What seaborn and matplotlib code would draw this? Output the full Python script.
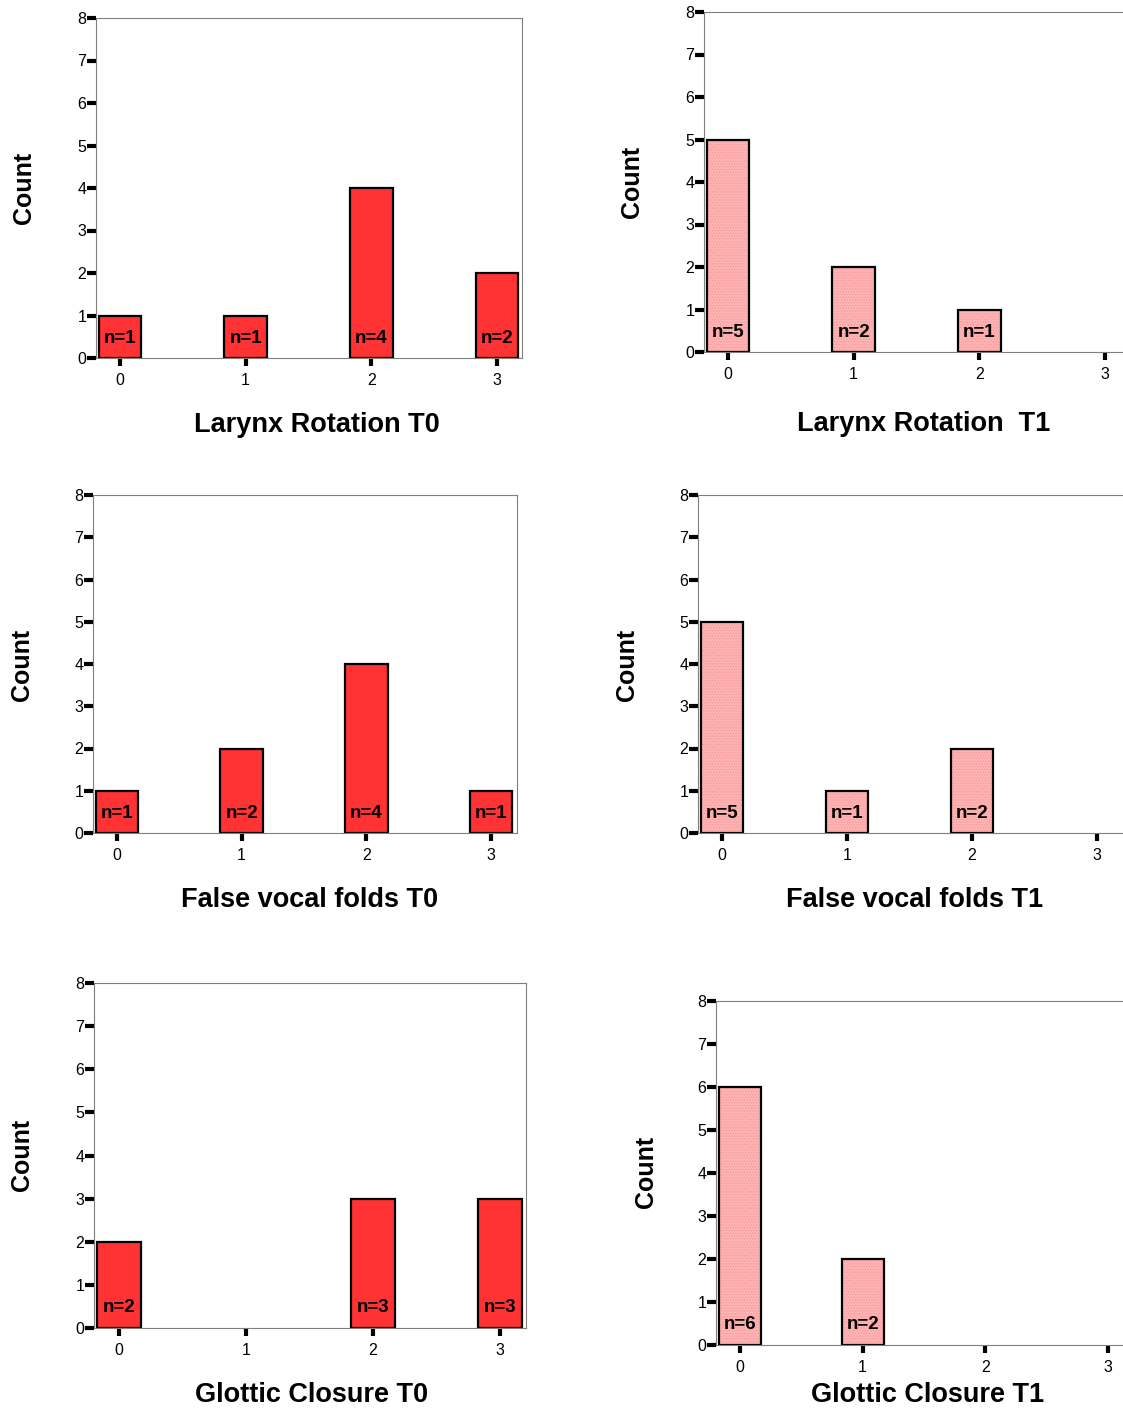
import matplotlib
matplotlib.use("Agg")
import matplotlib.pyplot as plt
import seaborn as sns
import pandas as pd

# Category codes on the x axis
categories = ["0", "1", "2", "3"]

# Counts per category for each assessment
larynx_t0 = [1, 1, 4, 2]
larynx_t1 = [5, 2, 1, 0]
vocal_folds_t0 = [1, 2, 4, 1]
vocal_folds_t1 = [5, 1, 2, 0]
glottic_t0 = [2, 0, 3, 3]
glottic_t1 = [6, 2, 0, 0]

titles = [
    "Larynx Rotation T0", "Larynx Rotation  T1",
    "False vocal folds T0", "False vocal folds T1",
    "Glottic Closure T0", "Glottic Closure T1",
]
yticks = [0, 1, 2, 3, 4, 5, 6, 7, 8]

sns.set_theme(style="white")
plt.rcParams["font.family"] = ["Liberation Sans", "DejaVu Sans"]
plt.rcParams["text.color"] = "black"
plt.rcParams["xtick.color"] = "black"
plt.rcParams["ytick.color"] = "black"
plt.rcParams["xtick.labelcolor"] = "black"
plt.rcParams["ytick.labelcolor"] = "black"
plt.rcParams["hatch.linewidth"] = 0.6

W, H = 1123, 1410
fig = plt.figure(figsize=(W / 100, H / 100), dpi=100)

RED = "#FF3333"
PINK = "#FFB3B3"
PINK_DOT = "#F59898"

# panel layout in pixels: left, right, top, bottom, x position of category 0, of category 3
panels = [
    (larynx_t0, 96, 522, 18, 358, 120, 497, False, (24, 188), (317, 425), True),
    (larynx_t1, 704, 1123, 12, 352, 728, 1105, True, (632, 182), (924, 424), False),
    (vocal_folds_t0, 93, 517, 495, 833, 117, 491, False, (22, 665), (310, 900), True),
    (vocal_folds_t1, 698, 1123, 495, 833, 722, 1097, True, (627, 665), (915, 900), False),
    (glottic_t0, 94, 526, 983, 1328, 119, 500, False, (22, 1155), (312, 1395), True),
    (glottic_t1, 716, 1123, 1001, 1345, 740, 1108, True, (646, 1172), (928, 1395), False),
]

for (counts, l, r, t, b, x0, x3, pink, ylab, xlab, right_spine), title in zip(panels, titles):
    ax = fig.add_axes([l / W, 1 - b / H, (r - l) / W, (b - t) / H])
    df = pd.DataFrame({"cat": categories, "count": counts})
    df = df[df["count"] > 0]

    if pink:
        sns.barplot(data=df, x="cat", y="count", order=categories, ax=ax,
                    color=PINK, saturation=1, width=0.34, errorbar=None,
                    edgecolor=PINK_DOT, linewidth=0, hatch="......")
    else:
        sns.barplot(data=df, x="cat", y="count", order=categories, ax=ax,
                    color=RED, saturation=1, width=0.34, errorbar=None,
                    linewidth=0)
    # black outlines on top of the fills
    sns.barplot(data=df, x="cat", y="count", order=categories, ax=ax,
                fill=False, color="black", saturation=1, width=0.34,
                errorbar=None, linewidth=1.6)

    for i, v in enumerate(counts):
        if v > 0:
            ax.text(i, 0.47, f"n={v}", ha="center", va="center",
                    fontsize=13.5, fontweight="bold", color="black")

    scale = (x3 - x0) / 3.0
    ax.set_xlim((l - x0) / scale, (r - x0) / scale)
    ax.set_ylim(0, 8)
    ax.set_yticks(yticks)
    ax.set_xlabel("")
    ax.set_ylabel("")

    for name, sp in ax.spines.items():
        sp.set_color("#7f7f7f")
        sp.set_linewidth(0.8)
    ax.spines["right"].set_visible(right_spine)

    ax.tick_params(axis="y", direction="out", length=6.5, width=3, color="black",
                   pad=0.5, labelsize=11.5, left=True)
    ax.tick_params(axis="x", direction="out", length=5.5, width=3, color="black",
                   pad=5, labelsize=11.5, bottom=True)
    ax.grid(False)

    fig.text(ylab[0] / W, 1 - ylab[1] / H, "Count", rotation=90,
             ha="center", va="center", fontsize=18, fontweight="bold")
    fig.text(xlab[0] / W, 1 - xlab[1] / H, title, ha="center", va="center",
             fontsize=19.5, fontweight="bold")

fig.savefig("out.png", dpi=100)
